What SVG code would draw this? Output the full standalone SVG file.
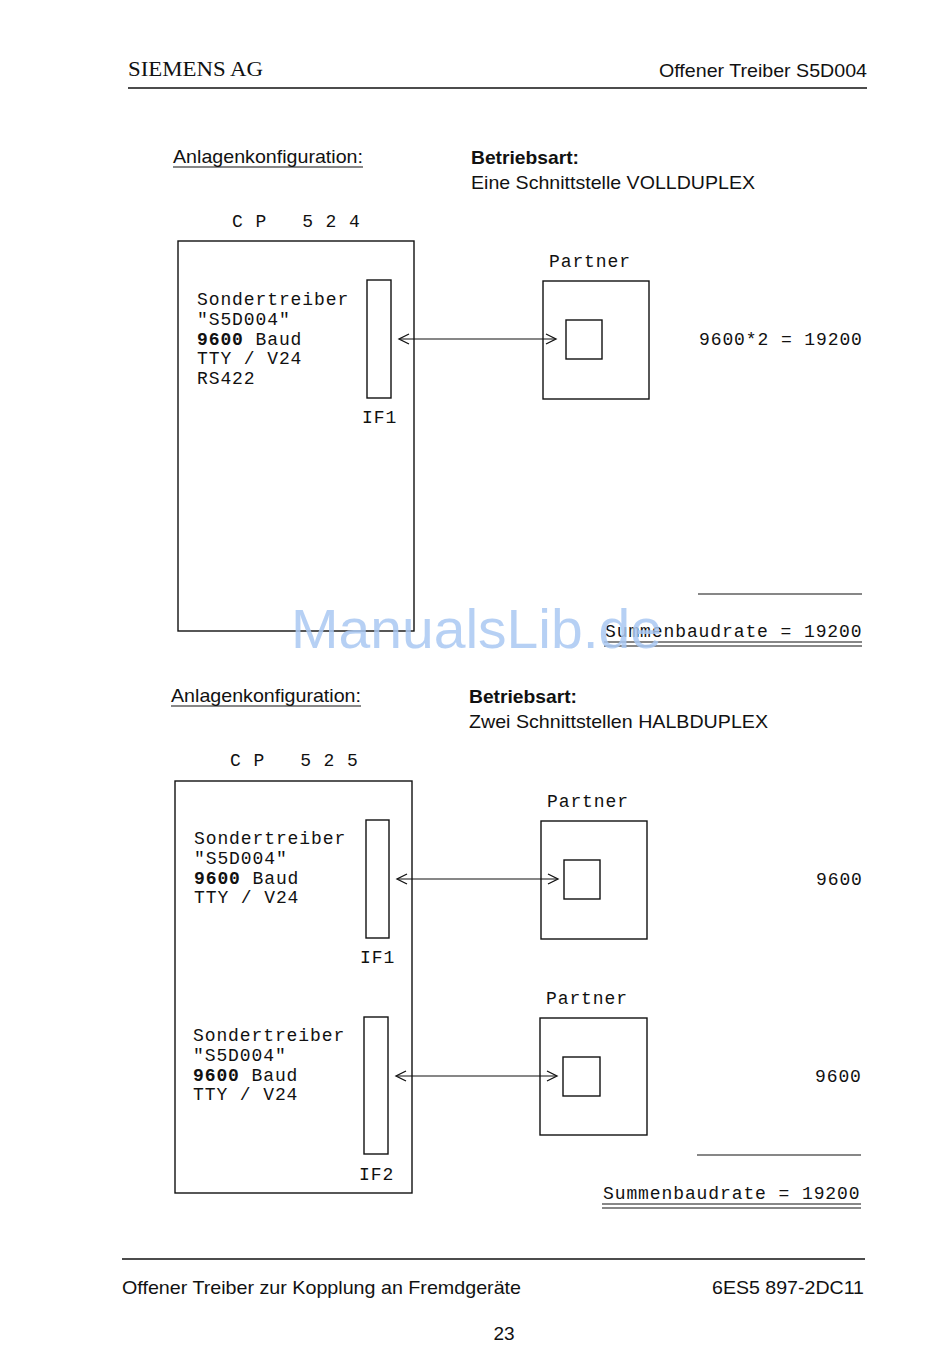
<svg xmlns="http://www.w3.org/2000/svg" width="950" height="1366" viewBox="0 0 950 1366">
<style>
.sans{font-family:"Liberation Sans",Arial,sans-serif;fill:#111}
.mono{font-family:"Liberation Mono","Courier New",monospace;font-size:18px;letter-spacing:0.9px;fill:#111}
.b{font-weight:bold}
.box{fill:none;stroke:#111;stroke-width:1.4}
.ln{stroke:#111;stroke-width:1.2;fill:none}
.hd{fill:none;stroke:#111;stroke-width:1.3}
</style>
<rect width="950" height="1366" fill="#fff"/>
<g id="header">
<text x="128" y="76" font-family="Liberation Serif,serif" font-size="22" fill="#111" textLength="135" lengthAdjust="spacingAndGlyphs">SIEMENS AG</text>
<text x="659" y="77" class="sans" font-size="19" textLength="208" lengthAdjust="spacingAndGlyphs">Offener Treiber S5D004</text>
<line x1="128" y1="88" x2="867" y2="88" stroke="#111" stroke-width="1.6"/>
</g>
<g id="section1-titles">
<text x="173" y="163" class="sans" font-size="19" textLength="190" lengthAdjust="spacingAndGlyphs">Anlagenkonfiguration:</text>
<line x1="173" y1="167" x2="363" y2="167" stroke="#111" stroke-width="1.2"/>
<text x="471" y="164" class="sans b" font-size="19" textLength="108" lengthAdjust="spacingAndGlyphs">Betriebsart:</text>
<text x="471" y="189" class="sans" font-size="19" textLength="284" lengthAdjust="spacingAndGlyphs">Eine Schnittstelle VOLLDUPLEX</text>
</g>
<g id="cp524">
<text x="232" y="227" class="mono" xml:space="preserve">C P   5 2 4</text>
<rect x="178" y="241" width="236" height="390" class="box"/>
<text class="mono"><tspan x="197" y="305">Sondertreiber</tspan><tspan x="197" y="325">"S5D004"</tspan><tspan x="197" y="345"><tspan class="b">9600</tspan> Baud</tspan><tspan x="197" y="364">TTY / V24</tspan><tspan x="197" y="384">RS422</tspan></text>
</g>
<g id="if1-a">
<rect x="367" y="280" width="24" height="118" class="box"/>
<text x="362" y="423" class="mono">IF1</text>
</g>
<g id="partner-a">
<text x="549" y="267" class="mono">Partner</text>
<rect x="543" y="281" width="106" height="118" class="box"/>
<rect x="566" y="320" width="36" height="39" class="box"/>
</g>
<g id="connectors">
<line x1="400" y1="339" x2="555" y2="339" class="ln"/>
<polyline points="409,334 399,339 409,344" class="hd"/>
<polyline points="546,334 556,339 546,344" class="hd"/>
<line x1="398" y1="879" x2="557" y2="879" class="ln"/>
<polyline points="407,874 397,879 407,884" class="hd"/>
<polyline points="548,874 558,879 548,884" class="hd"/>
<line x1="397" y1="1076" x2="556" y2="1076" class="ln"/>
<polyline points="406,1071 396,1076 406,1081" class="hd"/>
<polyline points="547,1071 557,1076 547,1081" class="hd"/>
</g>
<g id="sum1">
<text x="699" y="345" class="mono" xml:space="preserve">9600*2 = 19200</text>
<line x1="698" y1="594" x2="862" y2="594" stroke="#111" stroke-width="1.2"/>
<text x="605" y="637" class="mono" xml:space="preserve">Summenbaudrate = 19200</text>
<line x1="604" y1="642" x2="862" y2="642" stroke="#111" stroke-width="1.2"/>
<line x1="604" y1="646" x2="862" y2="646" stroke="#111" stroke-width="1.2"/>
</g>
<g id="section2-titles">
<text x="171" y="702" class="sans" font-size="19" textLength="190" lengthAdjust="spacingAndGlyphs">Anlagenkonfiguration:</text>
<line x1="171" y1="706" x2="361" y2="706" stroke="#111" stroke-width="1.2"/>
<text x="469" y="703" class="sans b" font-size="19" textLength="108" lengthAdjust="spacingAndGlyphs">Betriebsart:</text>
<text x="469" y="728" class="sans" font-size="19" textLength="299" lengthAdjust="spacingAndGlyphs">Zwei Schnittstellen HALBDUPLEX</text>
</g>
<g id="cp525">
<text x="230" y="766" class="mono" xml:space="preserve">C P   5 2 5</text>
<rect x="175" y="781" width="237" height="412" class="box"/>
<text class="mono"><tspan x="194" y="844">Sondertreiber</tspan><tspan x="194" y="864">"S5D004"</tspan><tspan x="194" y="884"><tspan class="b">9600</tspan> Baud</tspan><tspan x="194" y="903">TTY / V24</tspan></text>
<text class="mono"><tspan x="193" y="1041">Sondertreiber</tspan><tspan x="193" y="1061">"S5D004"</tspan><tspan x="193" y="1081"><tspan class="b">9600</tspan> Baud</tspan><tspan x="193" y="1100">TTY / V24</tspan></text>
</g>
<g id="if1-b">
<rect x="366" y="820" width="23" height="118" class="box"/>
<text x="360" y="963" class="mono">IF1</text>
</g>
<g id="if2-b">
<rect x="364" y="1017" width="24" height="137" class="box"/>
<text x="359" y="1180" class="mono">IF2</text>
</g>
<g id="partner-b1">
<text x="547" y="807" class="mono">Partner</text>
<rect x="541" y="821" width="106" height="118" class="box"/>
<rect x="564" y="860" width="36" height="39" class="box"/>
<text x="816" y="885" class="mono">9600</text>
</g>
<g id="partner-b2">
<text x="546" y="1004" class="mono">Partner</text>
<rect x="540" y="1018" width="107" height="117" class="box"/>
<rect x="563" y="1057" width="37" height="39" class="box"/>
<text x="815" y="1082" class="mono">9600</text>
</g>
<g id="sum2">
<line x1="697" y1="1155" x2="861" y2="1155" stroke="#111" stroke-width="1.2"/>
<text x="603" y="1199" class="mono" xml:space="preserve">Summenbaudrate = 19200</text>
<line x1="602" y1="1204" x2="861" y2="1204" stroke="#111" stroke-width="1.2"/>
<line x1="602" y1="1208" x2="861" y2="1208" stroke="#111" stroke-width="1.2"/>
</g>
<g id="footer">
<line x1="122" y1="1259" x2="865" y2="1259" stroke="#111" stroke-width="1.6"/>
<text x="122" y="1294" class="sans" font-size="19" textLength="399" lengthAdjust="spacingAndGlyphs">Offener Treiber zur Kopplung an Fremdgeräte</text>
<text x="712" y="1294" class="sans" font-size="19" textLength="152" lengthAdjust="spacingAndGlyphs">6ES5 897-2DC11</text>
<text x="504" y="1340" class="sans" font-size="19" text-anchor="middle">23</text>
</g>
<g id="watermark">
<text x="291" y="648" font-family="Liberation Sans,Arial,sans-serif" font-size="56" fill="#a9c8f2" fill-opacity="0.85" textLength="371" lengthAdjust="spacingAndGlyphs">ManualsLib.de</text>
</g>
</svg>
